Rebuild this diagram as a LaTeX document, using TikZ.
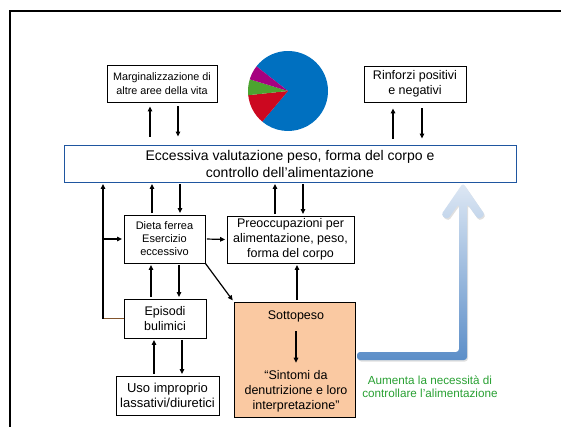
\documentclass[tikz,border=0pt]{standalone}
\usepackage{fontspec}
\setmainfont{Liberation Sans}
\usetikzlibrary{arrows.meta, shadows}

\definecolor{bordoblu}{RGB}{31,86,160}
\definecolor{pesca}{RGB}{250,201,162}
\definecolor{verdetesto}{RGB}{40,160,50}
\definecolor{marrone}{RGB}{130,85,45}
\definecolor{torta1}{RGB}{0,112,192}
\definecolor{torta2}{RGB}{204,8,32}
\definecolor{torta3}{RGB}{76,164,48}
\definecolor{torta4}{RGB}{166,0,128}
\definecolor{frecciachiara}{RGB}{222,232,244}
\definecolor{frecciascura}{RGB}{92,142,200}

\begin{document}
\begin{tikzpicture}[x=1pt, y=-1pt,
    scatola/.style={draw, line width=0.8pt, align=center, inner sep=1pt},
    freccia/.style={-{Triangle[length=5pt,width=4.5pt]}, line width=1.2pt, shorten >=1.5pt, shorten <=1.5pt},
    testo/.style={font=\fontsize{12.5}{15}\selectfont}]
  \useasboundingbox (0,0) rectangle (561,427);
  % Cornice
  \draw[line width=2pt] (561,11) -- (10,11) -- (10,427);
  % Torta
  \foreach \a/\b/\c in {-502/-230/torta1, -230/-186/torta2, -186/-163/torta3, -163/-142/torta4}
    \fill[\c] (288,91) -- ++(\a:40) arc[start angle=\a, end angle=\b, radius=40] -- cycle;
  % Riquadri
  \node[scatola, minimum width=110pt, minimum height=37pt, font=\fontsize{10.8}{13.3}\selectfont] (marg) at (162,83.5) {Marginalizzazione di\\altre aree della vita};
  \node[scatola, minimum width=102pt, minimum height=36pt, testo] (rinf) at (415,84) {Rinforzi positivi\\e negativi};
  \node[scatola, draw=bordoblu, minimum width=452pt, minimum height=37pt, font=\fontsize{14}{17}\selectfont] (valut) at (290,163.5) {Eccessiva valutazione peso, forma del corpo e\\controllo dell’alimentazione};
  \node[scatola, minimum width=81pt, minimum height=48pt, font=\fontsize{11}{13}\selectfont] (dieta) at (164.5,239) {Dieta ferrea\\Esercizio\\eccessivo};
  \node[scatola, minimum width=127pt, minimum height=47pt, testo] (preocc) at (290.5,239.5) {Preoccupazioni per\\alimentazione, peso,\\forma del corpo};
  \node[scatola, minimum width=82pt, minimum height=39pt, testo] (episodi) at (165,318.5) {Episodi\\bulimici};
  \node[scatola, minimum width=103pt, minimum height=39pt, font=\fontsize{13}{15}\selectfont] (uso) at (167.5,395.5) {Uso improprio\\lassativi/diuretici};
  \node[scatola, fill=pesca, minimum width=121pt, minimum height=115pt] (sotto) at (294.5,359.5) {};
  \node[testo] (sottotit) at (296,316) {Sottopeso};
  \node[testo, align=center] (sintomi) at (296,391) {“Sintomi da\\denutrizione e loro\\interpretazione”};
  \node[font=\fontsize{11.7}{13.3}\selectfont, text=verdetesto, align=center] (aumenta) at (430,386.5) {Aumenta la necessità di\\controllare l’alimentazione};
  % Frecce in alto
  \draw[freccia, shorten <=8pt, shorten >=4pt] (valut.north -| 150,0) -- (marg.south -| 150,0);
  \draw[freccia, shorten <=4pt, shorten >=8pt] (marg.south -| 178,0) -- (valut.north -| 178,0);
  \draw[freccia, shorten <=6pt, shorten >=6pt] (valut.north -| 393,0) -- (rinf.south -| 393,0);
  \draw[freccia, shorten <=6pt, shorten >=6pt] (rinf.south -| 422,0) -- (valut.north -| 422,0);
  % Frecce centrali
  \draw[freccia] (dieta.north -| 152,0) -- (valut.south -| 152,0);
  \draw[freccia] (valut.south -| 180,0) -- (dieta.north -| 180,0);
  \draw[freccia] (preocc.north -| 275,0) -- (valut.south -| 275,0);
  \draw[freccia] (valut.south -| 303,0) -- (preocc.north -| 303,0);
  \draw[freccia] (dieta.east) -- (preocc.west);
  \draw[freccia] (episodi.north -| 151,0) -- (dieta.south -| 151,0);
  \draw[freccia] (dieta.south -| 179,0) -- (episodi.north -| 179,0);
  \draw[freccia] (uso.north -| 154,0) -- (episodi.south -| 154,0);
  \draw[freccia] (episodi.south -| 182,0) -- (uso.north -| 182,0);
  \draw[freccia, shorten <=0pt] (dieta.south east) -- (sotto.north west);
  \draw[freccia] (sotto.north -| 297,0) -- (preocc.south -| 297,0);
  \draw[freccia, shorten <=6pt, shorten >=4pt] (sottotit) -- (sintomi);
  % Linea a sinistra
  \coordinate (angolo) at (103,318.5);
  \draw[marrone, line width=1.2pt] (episodi.west) -- ([xshift=-0.6pt]angolo);
  \draw[freccia, shorten <=0pt] (angolo) -- (valut.south -| angolo);
  \draw[freccia, shorten <=0pt] (angolo |- dieta.west) -- (dieta.west);
  % Freccia grande
  \shade[top color=frecciachiara, bottom color=frecciascura, rounded corners=3pt,
         drop shadow={opacity=0.25, shadow xshift=1pt, shadow yshift=-1.5pt}]
    (463,183) -- (441,215) -- (447.6,219.5) -- (459,203.6) -- (459,352)
    -- (357,352) -- (357,360) -- (467,360) -- (467,203.6)
    -- (478.4,219.5) -- (485,215) -- cycle;
\end{tikzpicture}
\end{document}
